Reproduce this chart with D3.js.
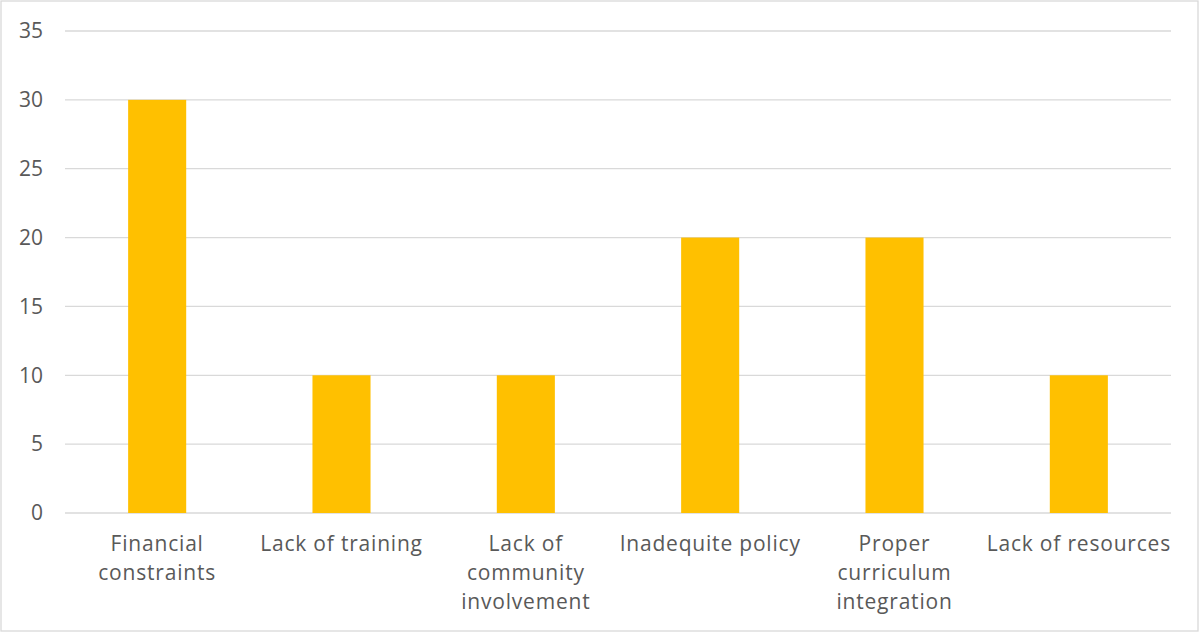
<!DOCTYPE html>
<html>
<head>
<meta charset="utf-8">
<script src="https://cdn.jsdelivr.net/npm/d3@7"></script>
<style>
  html, body { margin: 0; padding: 0; background: #fff; }
  svg { display: block; }
</style>
</head>
<body>
<svg id="chart" width="1200" height="632"></svg>
<script>
// Barriers and their reported counts
const categories = [
  "Financial constraints",
  "Lack of training",
  "Lack of community involvement",
  "Inadequite policy",
  "Proper curriculum integration",
  "Lack of resources"
];
// Wrapped label lines for each category
const labelLines = [
  ["Financial", "constraints"],
  ["Lack of training"],
  ["Lack of", "community", "involvement"],
  ["Inadequite policy"],
  ["Proper", "curriculum", "integration"],
  ["Lack of resources"]
];
const values = [30, 10, 10, 20, 20, 10];
const yTicks = [0, 5, 10, 15, 20, 25, 30, 35];

const W = 1200, H = 632;
const margin = { left: 65, right: 29, top: 31, bottom: 119 };
const svg = d3.select("#chart");
const font = "'Open Sans', 'Noto Sans', sans-serif";
const textColor = "#595959";

// Chart frame
svg.append("rect")
  .attr("x", 1).attr("y", 1)
  .attr("width", W - 3).attr("height", H - 2)
  .attr("fill", "#fff")
  .attr("stroke", "#d9d9d9").attr("stroke-width", 1.3);

const x = d3.scaleBand()
  .domain(categories)
  .range([margin.left, W - margin.right])
  .paddingInner(0.685)
  .paddingOuter(0.3425);

const y = d3.scaleLinear()
  .domain([0, 35])
  .range([H - margin.bottom, margin.top]);

// Horizontal gridlines
svg.append("g")
  .selectAll("line")
  .data(yTicks)
  .join("line")
  .attr("x1", margin.left).attr("x2", W - margin.right)
  .attr("y1", d => y(d)).attr("y2", d => y(d))
  .attr("stroke", "#d9d9d9").attr("stroke-width", 1.3);

// Bars
svg.append("g")
  .selectAll("rect")
  .data(values)
  .join("rect")
  .attr("x", (d, i) => x(categories[i]))
  .attr("width", x.bandwidth())
  .attr("y", d => y(d))
  .attr("height", d => y(0) - y(d))
  .attr("fill", "#ffc000");

// Y axis labels
const yAxis = d3.axisLeft(y).tickValues(yTicks).tickSize(0).tickPadding(22);
const gy = svg.append("g")
  .attr("transform", `translate(${margin.left},0)`)
  .call(yAxis);
gy.select(".domain").remove();
gy.selectAll("text")
  .attr("font-family", font)
  .attr("font-size", 21)
  .attr("fill", textColor);

// Category labels
const lab = svg.append("g")
  .selectAll("text")
  .data(categories)
  .join("text")
  .attr("x", d => x(d) + x.bandwidth() / 2)
  .attr("y", 551)
  .attr("text-anchor", "middle")
  .attr("font-family", font)
  .attr("font-size", 21)
  .attr("letter-spacing", 0.8)
  .attr("fill", textColor);
lab.each(function(d, i) {
  const t = d3.select(this);
  labelLines[i].forEach((line, k) => {
    t.append("tspan")
      .attr("x", x(d) + x.bandwidth() / 2)
      .attr("dy", k === 0 ? 0 : 29)
      .text(line);
  });
});
</script>
</body>
</html>
